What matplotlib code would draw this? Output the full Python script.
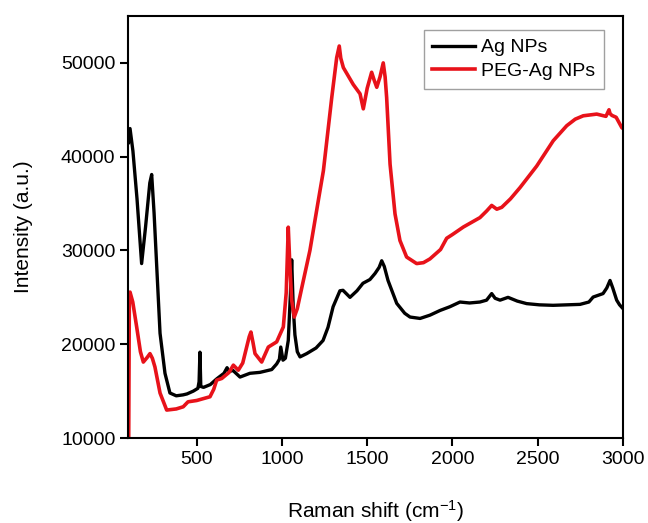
import matplotlib
matplotlib.use('Agg')
import matplotlib.pyplot as plt

plt.rcParams['font.family'] = ['Liberation Sans', 'DejaVu Sans']
plt.rcParams['mathtext.default'] = 'regular'

# Ag NPs spectrum
ag_shift = [100, 109, 126, 150, 177, 200, 225, 236, 250, 285, 314, 343, 380, 420,
            443, 480, 507, 514, 519, 524, 540, 580, 617, 660, 678, 690, 713, 754,
            812, 871, 940, 969, 985, 993, 1006, 1020, 1037, 1050, 1057, 1066, 1076,
            1090, 1106, 1145, 1200, 1241, 1270, 1300, 1340, 1358, 1399, 1440, 1475,
            1516, 1546, 1570, 1585, 1600, 1622, 1673, 1720, 1751, 1810, 1868, 1927,
            1985, 2044, 2100, 2161, 2200, 2230, 2250, 2279, 2326, 2380, 2435, 2510,
            2590, 2670, 2748, 2800, 2825, 2883, 2905, 2924, 2940, 2963, 2980, 3000]
ag_int = [41500, 43000, 40600, 35500, 28600, 32500, 37200, 38100, 34000, 21170,
          16900, 14800, 14500, 14600, 14700, 15000, 15300, 16000, 19150, 15500,
          15400, 15700, 16300, 16900, 17500, 17100, 17200, 16500, 16900, 17000,
          17300, 17900, 18400, 19700, 18300, 18500, 20400, 25500, 29000, 24000,
          21000, 19200, 18650, 19000, 19600, 20400, 21800, 24000, 25700, 25750,
          25000, 25700, 26500, 26900, 27550, 28200, 28900, 28300, 26800, 24360,
          23300, 22900, 22750, 23100, 23600, 24000, 24500, 24400, 24500, 24700,
          25400, 24900, 24700, 25000, 24600, 24330, 24200, 24150, 24200, 24250,
          24500, 25030, 25400, 26000, 26800, 26000, 24700, 24200, 23800]

# PEG-Ag NPs spectrum
peg_shift = [97, 101, 105, 109, 125, 148, 170, 187, 210, 226, 240, 255, 285, 324,
             380, 421, 449, 500, 578, 600, 617, 647, 690, 715, 744, 770, 793, 808,
             818, 830, 842, 881, 920, 969, 1008, 1025, 1037, 1045, 1057, 1072, 1090,
             1116, 1164, 1213, 1243, 1292, 1321, 1336, 1345, 1360, 1418, 1458, 1477,
             1500, 1526, 1540, 1556, 1575, 1594, 1605, 1614, 1634, 1663, 1692, 1731,
             1790, 1830, 1868, 1930, 1966, 2000, 2064, 2161, 2200, 2230, 2260, 2289,
             2340, 2396, 2494, 2591, 2670, 2720, 2767, 2846, 2900, 2918, 2924, 2935,
             2960, 2993, 3000]
peg_int = [8000, 9000, 25000, 25560, 24500, 21840, 19200, 18100, 18600, 19000,
           18500, 17580, 14800, 12980, 13100, 13330, 13860, 14000, 14400, 15200,
           16170, 16350, 17000, 17770, 17230, 18000, 19700, 20800, 21300, 20200,
           19000, 18100, 19700, 20250, 21840, 25500, 32480, 29000, 24700, 22900,
           23800, 26000, 30000, 35300, 38500, 46300, 50560, 51800, 50500, 49500,
           47700, 46700, 45100, 47300, 49000, 48200, 47400, 48500, 50000, 48500,
           46300, 39200, 33900, 31060, 29300, 28600, 28700, 29100, 30100, 31300,
           31700, 32500, 33500, 34200, 34800, 34400, 34600, 35500, 36700, 39000,
           41700, 43300, 44000, 44360, 44540, 44300, 45000, 44600, 44400, 44200,
           43100, 43000]

fig = plt.figure(figsize=(6.48, 5.23), dpi=100)
ax = fig.add_axes([0.1975, 0.1625, 0.7639, 0.8069])

ax.plot(ag_shift, ag_int, color='black', lw=2.4, label='Ag NPs')
ax.plot(peg_shift, peg_int, color='#e8121a', lw=2.6, label='PEG-Ag NPs')

ax.set_xlim(97, 3000)
ax.set_ylim(10000, 55000)
ax.set_xticks([500, 1000, 1500, 2000, 2500, 3000])
ax.set_yticks([10000, 20000, 30000, 40000, 50000])

ax.tick_params(direction='out', length=6, width=1.5, labelsize=14, pad=3,
               top=False, right=False)
for s in ax.spines.values():
    s.set_linewidth(1.5)

ax.set_xlabel('Raman shift (cm$^{-1}$)', fontsize=15, labelpad=22)
ax.set_ylabel('Intensity (a.u.)', fontsize=15, labelpad=20)

leg = ax.legend(loc='upper right', bbox_to_anchor=(0.9616, 0.9668), fontsize=14,
                fancybox=False, frameon=True, handlelength=2.2, handletextpad=0.3,
                borderpad=0.45, labelspacing=0.3, borderaxespad=0)
leg.get_frame().set_edgecolor('#888888')
leg.get_frame().set_linewidth(1.0)

fig.savefig('out.png', dpi=100)
